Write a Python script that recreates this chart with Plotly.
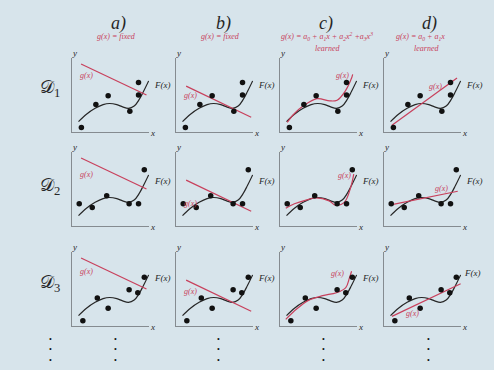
import plotly.graph_objects as go

W, H = 494, 370
BG = '#d7e4eb'
RED = '#c8405c'
INK = '#262626'
AXC = '#858b90'
SERIF = 'Liberation Serif, DejaVu Serif, serif'

# ---------------- data ----------------
col_titles = ['a)', 'b)', 'c)', 'd)']
col_sub1 = ['g(x) = fixed', 'g(x) = fixed',
            'g(x) = a<sub>0</sub> + a<sub>1</sub>x + a<sub>2</sub>x<sup>2</sup> +a<sub>3</sub>x<sup>3</sup>',
            'g(x) = a<sub>0</sub> + a<sub>1</sub>x']
col_sub2 = ['', '', 'learned', 'learned']
row_names = ['𝒟<sub>1</sub>', '𝒟<sub>2</sub>', '𝒟<sub>3</sub>']

# true function F(x) (same in every panel)
F_X = [0.9, 2.0, 3.2, 4.3, 5.2, 6.2, 7.0, 7.8, 8.6, 9.3, 9.9, 10.6]
F_Y = [1.4, 2.4, 3.2, 3.7, 3.85, 3.7, 3.4, 3.2, 3.5, 4.4, 5.5, 6.9]

# training sets D1, D2, D3
D1_X = [1.3, 3.3, 5.0, 8.0, 9.2, 9.2]
D1_Y = [0.6, 3.7, 4.9, 2.8, 5.0, 6.7]
D2_X = [1.0, 2.8, 4.8, 7.9, 9.2, 10.0]
D2_Y = [3.0, 2.5, 4.1, 3.0, 3.0, 7.6]
D3_X = [1.5, 3.5, 5.0, 7.9, 9.1, 10.0]
D3_Y = [0.7, 3.8, 2.4, 4.9, 4.5, 6.6]

# column a / b : fixed linear g(x)
GA_X = [1.25, 10.3]
GA_Y = [9.2, 5.0]
GB_X = [1.4, 10.4]
GB_Y = [6.2, 2.0]

# column c : learned cubic g(x) per data set
GC1_X = [1.0, 2.0, 3.2, 5.1, 6.9, 7.9, 9.0, 9.9, 10.05]
GC1_Y = [1.3, 2.5, 3.5, 4.5, 4.2, 4.3, 5.5, 7.3, 7.8]
GC2_X = [0.8, 2.0, 3.6, 5.0, 6.8, 7.7, 8.9, 9.8, 10.2]
GC2_Y = [2.4, 3.0, 3.5, 3.8, 3.4, 2.8, 3.2, 5.3, 7.0]
GC3_X = [0.8, 2.3, 4.0, 5.9, 7.8, 9.1, 9.6, 9.9]
GC3_Y = [0.9, 2.3, 3.5, 4.1, 4.5, 5.2, 6.5, 7.4]

# column d : learned linear g(x) per data set
GD1_X = [1.1, 10.1]
GD1_Y = [0.9, 7.3]
GD2_X = [1.1, 10.2]
GD2_Y = [2.9, 4.7]
GD3_X = [1.1, 10.6]
GD3_Y = [1.3, 5.7]

# ---------------- layout geometry ----------------
col_left = [72, 176, 280, 384]
row_bottom = [132, 226, 326]
PW, PH = 77, 74
XR = [0, 10.65]
YR = [0, 10]

data_sets = [(D1_X, D1_Y), (D2_X, D2_Y), (D3_X, D3_Y)]
g_curves = {
    0: [(GA_X, GA_Y)] * 3,
    1: [(GB_X, GB_Y)] * 3,
    2: [(GC1_X, GC1_Y), (GC2_X, GC2_Y), (GC3_X, GC3_Y)],
    3: [(GD1_X, GD1_Y), (GD2_X, GD2_Y), (GD3_X, GD3_Y)],
}
# g(x) label anchor (axis units, centre) per [col][row]
g_lab = {
    0: [(1.95, 7.6), (1.95, 7.0), (1.95, 7.3)],
    1: [(2.0, 4.9), (2.0, 3.0), (2.0, 4.6)],
    2: [(8.6, 7.6), (8.9, 6.8), (8.0, 7.1)],
    3: [(7.1, 6.2), (8.0, 5.1), (3.9, 1.7)],
}
# F(x) label offsets in pixels (centre above panel bottom)
f_lab_dy = [47, 45, 48]

fig = go.Figure()
layout = dict(width=W, height=H, margin=dict(l=0, r=0, t=0, b=0),
              paper_bgcolor=BG, plot_bgcolor=BG, showlegend=False)
ann = []


def px2paper(px, py):
    return px / W, 1 - py / H


def text_at(px, py, text, size, color, xanchor='center'):
    tx, ty = px2paper(px, py)
    ann.append(dict(x=tx, y=ty, xref='paper', yref='paper', text=text, showarrow=False,
                    xanchor=xanchor, yanchor='middle',
                    font=dict(family=SERIF, size=size, color=color)))


k = 0
for r in range(3):
    for c in range(4):
        k += 1
        sx = '' if k == 1 else str(k)
        xa, ya = 'x' + sx, 'y' + sx
        x0 = col_left[c] / W
        x1 = (col_left[c] + PW) / W
        y0 = 1 - row_bottom[r] / H
        y1 = 1 - (row_bottom[r] - PH) / H
        axcommon = dict(showgrid=False, zeroline=False, showticklabels=False,
                        ticks='', showline=True, linecolor=AXC, linewidth=1,
                        fixedrange=True)
        layout['xaxis' + sx] = dict(domain=[x0, x1], range=XR, anchor=ya, **axcommon)
        layout['yaxis' + sx] = dict(domain=[y0, y1], range=YR, anchor=xa, **axcommon)

        fig.add_trace(go.Scatter(x=F_X, y=F_Y, mode='lines', xaxis=xa, yaxis=ya,
                                 line=dict(color=INK, width=1.2, shape='spline', smoothing=1.0),
                                 hoverinfo='skip'))
        gx, gy = g_curves[c][r]
        fig.add_trace(go.Scatter(x=gx, y=gy, mode='lines', xaxis=xa, yaxis=ya,
                                 line=dict(color=RED, width=1.2,
                                           shape='spline' if c == 2 else 'linear', smoothing=1.0),
                                 hoverinfo='skip'))
        dx, dy = data_sets[r]
        fig.add_trace(go.Scatter(x=dx, y=dy, mode='markers', xaxis=xa, yaxis=ya,
                                 marker=dict(color='#111111', size=5.5), cliponaxis=False,
                                 hoverinfo='skip'))
        # g(x) label inside panel
        lx, ly = g_lab[c][r]
        ann.append(dict(x=lx, y=ly, xref=xa, yref=ya, text='<i>g(x)</i>', showarrow=False,
                        xanchor='center', yanchor='middle',
                        font=dict(family=SERIF, size=8, color=RED)))
        # F(x) label just right of the panel
        if c == 3 and r == 2:
            text_at(col_left[c] + 78, row_bottom[r] - 53, '<i>F(x)</i>', 9, INK, 'left')
        else:
            text_at(col_left[c] + 80, row_bottom[r] - f_lab_dy[r], '<i>F(x)</i>', 9, INK, 'left')
        # axis letters
        text_at(col_left[c] + PW + 3, row_bottom[r] + 1, '<i>x</i>', 9, INK)
        text_at(col_left[c] + 2, row_bottom[r] - PH - 5, '<i>y</i>', 9, INK)

# column titles
title_x = [118, 223, 326, 429]
sub_x = [116, 220, 327, 420]
sub2_x = [116, 220, 327, 426]
for c in range(4):
    text_at(title_x[c], 23, '<i>' + col_titles[c] + '</i>', 18, INK)
    text_at(sub_x[c], 37, '<i>' + col_sub1[c] + '</i>', 8, RED)
    if col_sub2[c]:
        text_at(sub2_x[c], 48, '<i>' + col_sub2[c] + '</i>', 8, RED)

# row labels
row_label_y = [88, 187, 283]
for r in range(3):
    text_at(50, row_label_y[r], row_names[r], 18, INK)

# vertical ellipses
for px in [50, 115, 218, 323, 428]:
    text_at(px, 350, '•<br>•<br>•', 8, '#111111')

layout['annotations'] = ann
fig.update_layout(**layout)
fig.write_html("out.html", config={'displayModeBar': False},
               post_script="document.body.style.margin='0';")
